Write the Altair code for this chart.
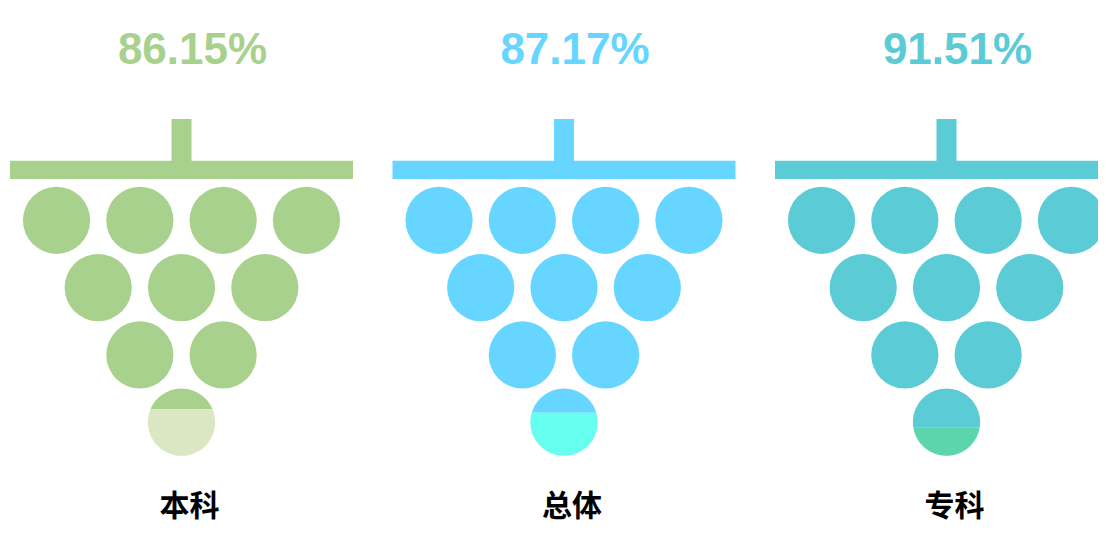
import math
import altair as alt
import pandas as pd

# ---- data ----
categories = ["本科", "总体", "专科"]
rates = [86.15, 87.17, 91.51]
rate_labels = ["86.15%", "87.17%", "91.51%"]

# ---- styling ----
main_colors = ["#a9d18e", "#66d5ff", "#5bcbd6"]
light_colors = ["#dbe6c3", "#66ffef", "#5dd5ac"]

# ---- layout (page pixel units) ----
W, H = 1090, 517
X0, Y0 = 8, 8
PANEL_C0 = 181.5
PANEL_GAP = 382.5
PITCH_X = 83.3
PITCH_Y = 67.3
RADIUS = 33.6
ROW0_Y = 220.3
ROWS = [4, 3, 2, 1]
BAR_HALF = 171.5
BAR_TOP, BAR_BOT = 160.7, 179.0
STEM_HALF = 10.0
STEM_TOP = 119.0
FILL_BASE = 80.0
FILL_SPAN = 20.0

centers = [PANEL_C0 + i * PANEL_GAP for i in range(len(categories))]


def to_path(pts):
    return "M" + " L".join(f"{px:.4f},{py:.4f}" for px, py in pts) + " Z"


rects, dots, caps, texts = [], [], [], []
for i, cat in enumerate(categories):
    c = centers[i]
    rects.append(dict(cat=cat, x=c - BAR_HALF, x2=c + BAR_HALF, y=BAR_TOP, y2=BAR_BOT))
    rects.append(dict(cat=cat, x=c - STEM_HALF, x2=c + STEM_HALF, y=STEM_TOP, y2=BAR_TOP + 1))
    for r, n in enumerate(ROWS):
        y = ROW0_Y + r * PITCH_Y
        for j in range(n):
            x = c + (j - (n - 1) / 2) * PITCH_X
            if r == len(ROWS) - 1:
                f = (rates[i] - FILL_BASE) / FILL_SPAN
                a = math.asin(-1 + 2 * f)
                top = [(math.cos(t), math.sin(t)) for t in
                       [a + (-math.pi - 2 * a) * k / 80 for k in range(81)]]
                bot = [(math.cos(t), math.sin(t)) for t in
                       [a + (math.pi - 2 * a) * k / 80 for k in range(81)]]
                caps.append(dict(key=f"{cat}-main", x=x, y=y, path=to_path(top)))
                caps.append(dict(key=f"{cat}-light", x=x, y=y, path=to_path(bot)))
            else:
                dots.append(dict(cat=cat, x=x, y=y))
    texts.append(dict(cat=cat, label=cat, pct=rate_labels[i], x=c + 11))

rect_df = pd.DataFrame(rects)
dot_df = pd.DataFrame(dots)
cap_df = pd.DataFrame(caps)
text_df = pd.DataFrame(texts)

xs = alt.Scale(domain=[X0, X0 + W], nice=False, zero=False)
ys = alt.Scale(domain=[Y0, Y0 + H], nice=False, zero=False, reverse=True)
cs = alt.Scale(domain=categories, range=main_colors)


def X(f="x"):
    return alt.X(f"{f}:Q", scale=xs, axis=None)


def Y(f="y"):
    return alt.Y(f"{f}:Q", scale=ys, axis=None)


bars = alt.Chart(rect_df).mark_rect(clip=True).encode(
    x=X(), x2="x2:Q", y=Y(), y2="y2:Q",
    color=alt.Color("cat:N", scale=cs, legend=None),
)

size = (2 * RADIUS) ** 2
grapes = alt.Chart(dot_df).mark_point(filled=True, shape="circle", opacity=1, strokeWidth=0).encode(
    x=X(), y=Y(), size=alt.value(size),
    color=alt.Color("cat:N", scale=cs, legend=None),
)

cap_keys = [f"{c}-main" for c in categories] + [f"{c}-light" for c in categories]
cap_cols = main_colors + light_colors
last = alt.Chart(cap_df).mark_point(filled=True, opacity=1, strokeWidth=0).encode(
    x=X(), y=Y(), size=alt.value(size),
    shape=alt.Shape("path:N", scale=None, legend=None),
    fill=alt.Fill("key:N", scale=alt.Scale(domain=cap_keys, range=cap_cols), legend=None),
)

pct = alt.Chart(text_df).mark_text(
    font="Liberation Sans", fontWeight="bold", fontSize=44, baseline="middle", align="center"
).encode(
    x=X(), y=alt.value(51 - Y0),
    text="pct:N",
    color=alt.Color("cat:N", scale=cs, legend=None),
)

lab = alt.Chart(text_df).mark_text(
    font="Noto Sans CJK SC", fontWeight="bold", fontSize=30, baseline="middle", align="center", dx=-3
).encode(
    x=X(), y=alt.value(507 - Y0),
    text="label:N",
    color=alt.value("#000000"),
)

chart = alt.layer(bars, grapes, last, pct, lab).properties(
    width=W, height=H, padding=0, autosize="none"
).resolve_scale(color="independent", fill="independent").configure_view(stroke=None)

chart.save("out.html", embed_options={"renderer": "svg", "actions": False})
